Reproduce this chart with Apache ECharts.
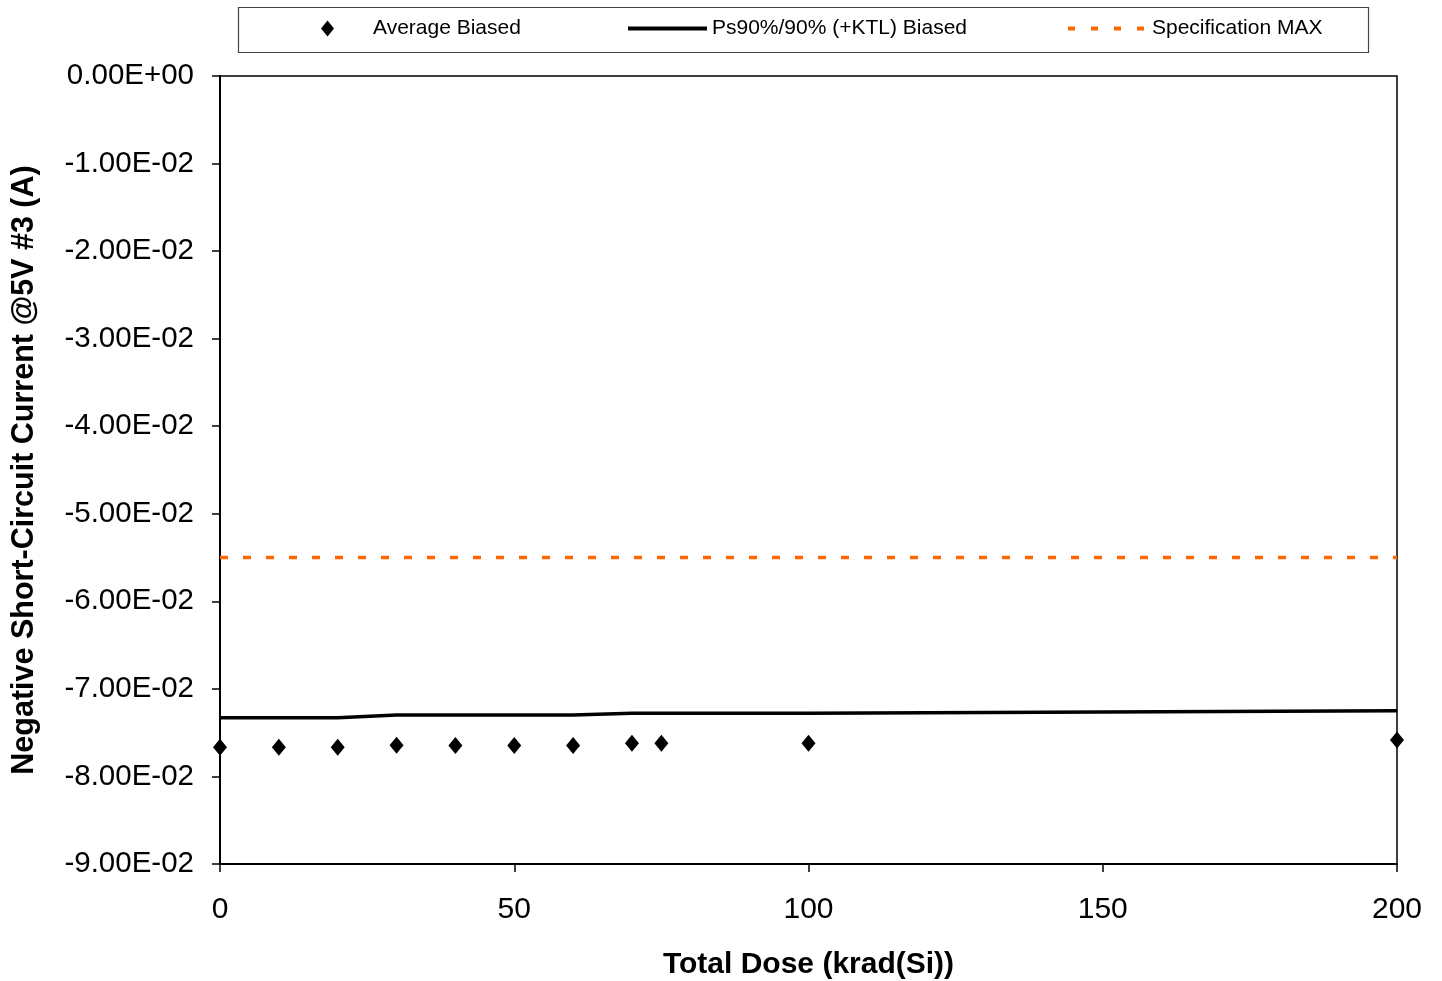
<!DOCTYPE html>
<html>
<head>
<meta charset="utf-8">
<script src="https://cdn.jsdelivr.net/npm/echarts@6/dist/echarts.min.js"></script>
<style>html,body{margin:0;padding:0;background:#fff;}#c{width:1442px;height:981px;}</style>
</head>
<body>
<div id="c"></div>
<script>
const doses = [0, 10, 20, 30, 40, 50, 60, 70, 75, 100, 200];
const averageBiased = [-0.07667, -0.07667, -0.07667, -0.07644, -0.07646, -0.07646, -0.07648, -0.07621, -0.07621, -0.07621, -0.07583];
const ktlDoses = [0, 20, 30, 60, 70, 100, 200];
const ktlBiased = [-0.07329, -0.07329, -0.07298, -0.07298, -0.07277, -0.07277, -0.07249];
const specMax = -0.055;
const specDoses = [0, 200];
const seriesNames = ['Average Biased', 'Ps90%/90% (+KTL) Biased', 'Specification MAX'];

function fmtExp(v) {
  if (Math.abs(v) < 1e-12) return '0.00E+00';
  const s = v.toExponential(2).toUpperCase();
  const m = s.match(/^(-?[\d.]+)E([+-])(\d+)$/);
  return m[1] + 'E' + m[2] + m[3].padStart(2, '0');
}

const chart = echarts.init(document.getElementById('c'));
const font = 'Liberation Sans, Arial, sans-serif';
chart.setOption({
  animation: false,
  textStyle: { fontFamily: font },
  grid: { left: 220, right: 45, top: 76, bottom: 117, show: true, borderColor: '#000', borderWidth: 1.5,
          containLabel: false, outerBoundsMode: 'none' },
  graphic: [{
    type: 'rect', left: 236, top: 5, shape: { width: 1130, height: 45 },
    style: { fill: 'none', stroke: '#444', lineWidth: 1.2 }, z: 0
  }],
  legend: [
    { data: [seriesNames[0]], left: 321, top: 18, padding: 0, itemWidth: 13, itemHeight: 16, itemGap: 0,
      itemStyle: { opacity: 1 },
      textStyle: { fontSize: 21, color: '#000', fontFamily: font, padding: [0, 0, 0, 34] } },
    { data: [seriesNames[1]], left: 626, top: 18, padding: 0, itemWidth: 79, itemHeight: 16, itemGap: 0,
      itemStyle: { opacity: 0 }, lineStyle: { width: 4 },
      textStyle: { fontSize: 21, color: '#000', fontFamily: font, padding: [0, 0, 0, 0] } },
    { data: [seriesNames[2]], left: 1066, top: 18, padding: 0, itemWidth: 79, itemHeight: 16, itemGap: 0,
      itemStyle: { opacity: 0 }, lineStyle: { width: 4, type: [7, 16] },
      textStyle: { fontSize: 21, color: '#000', fontFamily: font, padding: [0, 0, 0, 0] } }
  ],
  xAxis: {
    type: 'value', min: 0, max: 200, interval: 50,
    name: 'Total Dose (krad(Si))', nameLocation: 'middle', nameGap: 86,
    nameTextStyle: { fontSize: 30, fontWeight: 'bold', color: '#000', fontFamily: font },
    axisLine: { show: true, onZero: false, lineStyle: { color: '#000', width: 2 } },
    axisTick: { show: true, inside: false, length: 8, lineStyle: { color: '#000', width: 1.5 } },
    axisLabel: { fontSize: 30, color: '#000', margin: 31, fontFamily: font },
    splitLine: { show: false }
  },
  yAxis: {
    type: 'value', min: -0.09, max: 0, interval: 0.01,
    name: 'Negative Short-Circuit Current @5V #3 (A)', nameLocation: 'middle', nameGap: 180,
    nameTextStyle: { fontSize: 30.5, fontWeight: 'bold', color: '#000', fontFamily: font },
    axisLine: { show: true, onZero: false, lineStyle: { color: '#000', width: 2 } },
    axisTick: { show: true, inside: false, length: 8, lineStyle: { color: '#000', width: 1.5 } },
    axisLabel: { fontSize: 29.5, color: '#000', margin: 26, formatter: fmtExp, fontFamily: font },
    splitLine: { show: false }
  },
  series: [
    { name: seriesNames[0], type: 'scatter', symbol: 'diamond', symbolSize: [14, 17],
      itemStyle: { color: '#000', opacity: 1 }, data: doses.map((d, i) => [d, averageBiased[i]]), z: 5 },
    { name: seriesNames[1], type: 'line', symbol: 'none', showSymbol: false,
      lineStyle: { color: '#000', width: 3.5 }, itemStyle: { color: '#000' },
      data: ktlDoses.map((d, i) => [d, ktlBiased[i]]), z: 4 },
    { name: seriesNames[2], type: 'line', symbol: 'none', showSymbol: false,
      lineStyle: { color: '#FF6600', width: 3.5, type: [8, 15] }, itemStyle: { color: '#FF6600' },
      data: specDoses.map(d => [d, specMax]), z: 3 }
  ]
});
</script>
</body>
</html>
